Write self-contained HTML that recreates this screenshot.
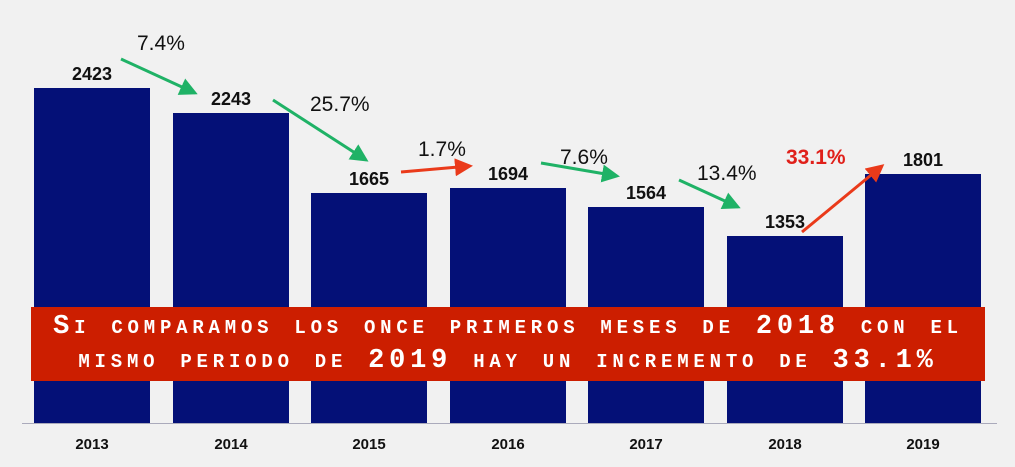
<!DOCTYPE html>
<html><head><meta charset="utf-8"><style>
body{margin:0;width:1015px;height:467px;background:#f1f1f1;overflow:hidden;position:relative;font-family:"Liberation Sans",Arial,sans-serif}
.bar{position:absolute;background:#041077;width:116px}
.v{position:absolute;font-weight:bold;font-size:18px;color:#111;width:116px;text-align:center}
.y{position:absolute;top:436px;font-weight:bold;font-size:15px;color:#111;width:116px;text-align:center}
.p{position:absolute;font-size:21px;color:#111}
#ban{position:absolute;left:31px;top:307px;width:954px;height:74px;background:#cc1e00;color:#fff;font-family:"Liberation Mono",monospace;font-variant:small-caps;font-weight:bold;font-size:27px;letter-spacing:4.8px;text-align:center;line-height:34px;padding-top:3px;box-sizing:border-box;white-space:nowrap}
</style></head><body>
<div style="position:absolute;left:22px;top:423px;width:975px;height:1px;background:#aab"></div>
<div class="bar" style="left:34px;top:88px;height:335px"></div>
<div class="bar" style="left:173px;top:113px;height:310px"></div>
<div class="bar" style="left:311px;top:193px;height:230px"></div>
<div class="bar" style="left:450px;top:188px;height:235px"></div>
<div class="bar" style="left:588px;top:207px;height:216px"></div>
<div class="bar" style="left:727px;top:236px;height:187px"></div>
<div class="bar" style="left:865px;top:174px;height:249px"></div>
<div class="v" style="left:34px;top:64px">2423</div>
<div class="v" style="left:173px;top:89px">2243</div>
<div class="v" style="left:311px;top:169px">1665</div>
<div class="v" style="left:450px;top:164px">1694</div>
<div class="v" style="left:588px;top:183px">1564</div>
<div class="v" style="left:727px;top:212px">1353</div>
<div class="v" style="left:865px;top:150px">1801</div>
<div class="y" style="left:34px">2013</div><div class="y" style="left:173px">2014</div><div class="y" style="left:311px">2015</div><div class="y" style="left:450px">2016</div><div class="y" style="left:588px">2017</div><div class="y" style="left:727px">2018</div><div class="y" style="left:865px">2019</div>
<div class="p" style="left:137px;top:32px">7.4%</div>
<div class="p" style="left:310px;top:93px">25.7%</div>
<div class="p" style="left:418px;top:138px">1.7%</div>
<div class="p" style="left:560px;top:146px">7.6%</div>
<div class="p" style="left:697px;top:162px">13.4%</div>
<div class="p" style="left:786px;top:146px;color:#e0201a;font-weight:bold">33.1%</div>
<svg width="1015" height="467" style="position:absolute;left:0;top:0">
<defs><marker id="g" markerWidth="6" markerHeight="6" refX="5" refY="3" orient="auto"><path d="M0,0L6,3L0,6z" fill="#1fb266"/></marker>
<marker id="r" markerWidth="6" markerHeight="6" refX="5" refY="3" orient="auto"><path d="M0,0L6,3L0,6z" fill="#ea3a1a"/></marker></defs>
<g stroke-width="3" fill="none">
<line x1="121" y1="59" x2="195" y2="93" stroke="#1fb266" marker-end="url(#g)"/>
<line x1="273" y1="100" x2="366" y2="160" stroke="#1fb266" marker-end="url(#g)"/>
<line x1="401" y1="172" x2="470" y2="166" stroke="#ea3a1a" marker-end="url(#r)"/>
<line x1="541" y1="163" x2="617" y2="176" stroke="#1fb266" marker-end="url(#g)"/>
<line x1="679" y1="180" x2="738" y2="207" stroke="#1fb266" marker-end="url(#g)"/>
<line x1="802" y1="232" x2="882" y2="166" stroke="#ea3a1a" marker-end="url(#r)"/>
</g></svg>
<div id="ban">Si comparamos los once primeros meses de 2018 con el<br>mismo periodo de 2019 hay un incremento de 33.1%</div>
</body></html>
